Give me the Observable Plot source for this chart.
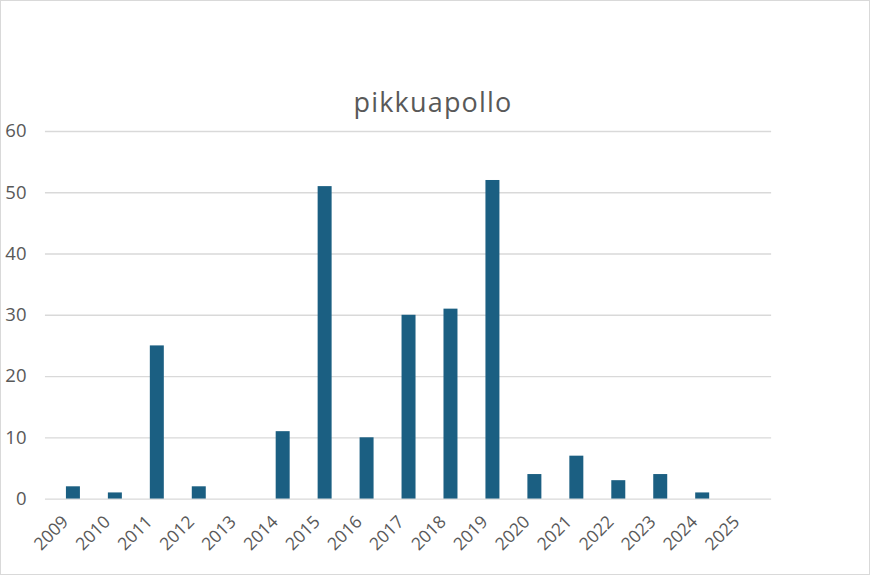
<!DOCTYPE html>
<html>
<head>
<meta charset="utf-8">
<script src="https://cdn.jsdelivr.net/npm/d3@7"></script>
<script src="https://cdn.jsdelivr.net/npm/@observablehq/plot@0.6"></script>
<style>
  html, body { margin: 0; padding: 0; background: #fff; }
  #wrap { position: relative; width: 870px; height: 575px; box-sizing: border-box; border: 1px solid #d9d9d9; overflow: hidden; font-family: "Open Sans", "Liberation Sans", sans-serif; }
  #title { position: absolute; left: 0; top: 0; width: 870px; height: 115px; text-align: center; font-size: 27px; letter-spacing: 1.2px; color: #595959; line-height: 1; }
  #title span { position: absolute; left: 0; right: 6px; top: 87px; }
  #chart { position: absolute; left: -1px; top: 114px; }
</style>
</head>
<body>
<div id="wrap">
  <div id="title"><span>pikkuapollo</span></div>
  <div id="chart"></div>
</div>
<script>
const years = ["2009","2010","2011","2012","2013","2014","2015","2016","2017","2018","2019","2020","2021","2022","2023","2024","2025"];
const counts = [2, 1, 25, 2, 0, 11, 51, 10, 30, 31, 52, 4, 7, 3, 4, 1, 0];
const yTicks = [0, 10, 20, 30, 40, 50, 60];

const data = years.map((y, i) => ({year: y, count: counts[i]}));

const chart = Plot.plot({
  width: 870,
  height: 461,
  marginTop: 16,
  marginLeft: 45,
  marginRight: 98,
  marginBottom: 77,
  style: { fontFamily: "'Open Sans', 'Liberation Sans', sans-serif", fontSize: "18px", color: "#595959", background: "transparent" },
  x: { type: "band", domain: years, paddingInner: 0.67, paddingOuter: 0.335, label: null },
  y: { domain: [0, 60], label: null },
  marks: [
    Plot.gridY(yTicks, { stroke: "#d9d9d9", strokeOpacity: 1, strokeWidth: 1.3 }),
    Plot.barY(data, { x: "year", y: "count", fill: "#1b5f82" }),
    Plot.axisY(yTicks, { tickSize: 0, tickPadding: 19, fontSize: 18.5, fill: "#595959", label: null }),
    Plot.axisX({ tickSize: 0, tickPadding: 8, tickRotate: -45, fontSize: 17.5, fill: "#595959", label: null, dx: -8, dy: 12 })
  ]
});
document.getElementById("chart").appendChild(chart);
</script>
</body>
</html>
